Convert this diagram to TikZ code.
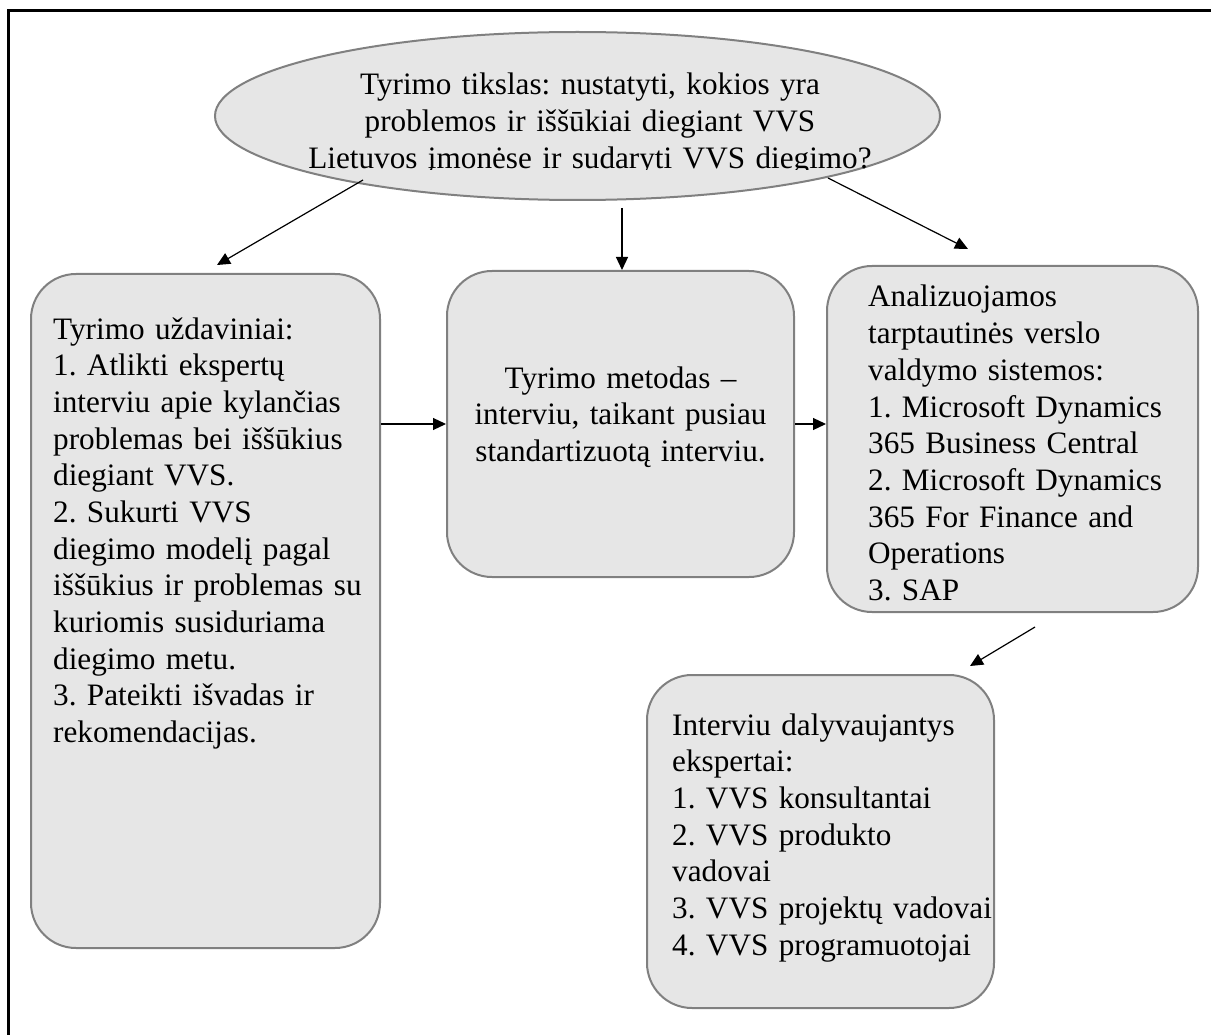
\documentclass[tikz,border=0pt]{standalone}
\usepackage{fontspec}
\setmainfont{Liberation Serif}
\usetikzlibrary{arrows.meta,shapes.geometric,calc}
\definecolor{boxfill}{RGB}{230,230,230}
\definecolor{boxline}{RGB}{128,128,128}
\frenchspacing
\begin{document}
\begin{tikzpicture}[x=1pt,y=-1pt,
  box/.style={draw=boxline, fill=boxfill, line width=2pt, rounded corners=45pt, inner sep=0pt},
  ltxt/.style={inner sep=0pt, font=\fontsize{31.2pt}{36.7pt}\selectfont\frenchspacing, text width=420pt, align=left},
  ctxt/.style={inner sep=0pt, font=\fontsize{31.2pt}{36.7pt}\selectfont\frenchspacing, text width=640pt, align=center},
  arr/.style={line width=1.2pt, -{Triangle[length=13pt,width=12pt]}}]
\useasboundingbox (0,0) rectangle (1211,1035);
\fill[white] (0,0) rectangle (1211,1035);
\draw[line width=3pt] (8.5,1035) -- (8.5,10.5) -- (1211,10.5);

\node[ellipse, draw=boxline, fill=boxfill, line width=2pt, minimum width=725pt, minimum height=168pt, inner sep=0pt] (E) at (577.5,116) {};
\begin{scope}
\clip (0,0) rectangle (1211,169.5);
\node[ctxt, anchor=base] (Et) at (590,95) {Tyrimo tikslas: nustatyti, kokios yra\\problemos ir iššūkiai diegiant VVS\\Lietuvos įmonėse ir sudaryti VVS diegimo?};
\end{scope}

\node[box, minimum width=349pt, minimum height=674pt] (L) at (205.5,611) {};
\node[box, minimum width=347pt, minimum height=306pt] (M) at (620.5,424) {};
\node[box, minimum width=371pt, minimum height=346pt] (R) at (1012.5,439) {};
\node[box, minimum width=347pt, minimum height=333pt] (B) at (820.5,841.5) {};

\node[ltxt, anchor=base west] (Lt) at (53,339) {Tyrimo uždaviniai:\\1. Atlikti ekspertų\\interviu apie kylančias\\problemas bei iššūkius\\diegiant VVS.\\2. Sukurti VVS\\diegimo modelį pagal\\iššūkius ir problemas su\\kuriomis susiduriama\\diegimo metu.\\3. Pateikti išvadas ir\\rekomendacijas.};
\node[ctxt, text width=360pt, anchor=base] (Mt) at (620.5,388) {Tyrimo metodas --\\interviu, taikant pusiau\\standartizuotą interviu.};
\node[ltxt, anchor=base west] (Rt) at (868,307) {Analizuojamos\\tarptautinės verslo\\valdymo sistemos:\\1. Microsoft Dynamics\\365 Business Central\\2. Microsoft Dynamics\\365 For Finance and\\Operations\\3. SAP};
\node[ltxt, anchor=base west] (Bt) at (672,735) {Interviu dalyvaujantys\\ekspertai:\\1. VVS konsultantai\\2. VVS produkto\\vadovai\\3. VVS projektų vadovai\\4. VVS programuotojai};

\coordinate (e1) at (363,180);
\coordinate (l1) at (217,265);
\coordinate (e2) at (622,208);
\coordinate (e3) at (828,178);
\coordinate (r1) at (968,249);
\coordinate (r2) at (1035,627);
\coordinate (b1) at (970,666);
\draw[arr] (e1) -- (l1);
\draw[arr] (e2) -- (e2 |- M.north);
\draw[arr] (e3) -- (r1);
\draw[arr] (L.east |- M.west) -- (M.west);
\draw[arr] (M.east) -- (R.west |- M.east);
\draw[arr] (r2) -- (b1);
\end{tikzpicture}
\end{document}
